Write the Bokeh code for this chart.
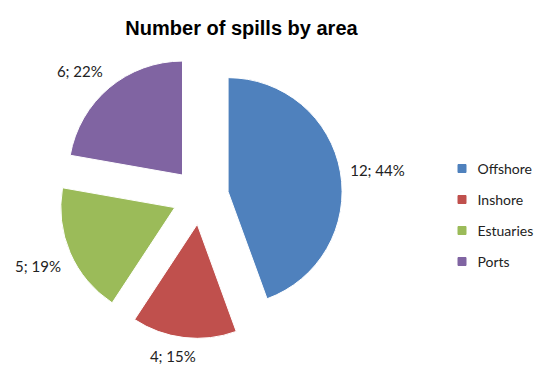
import numpy as np
from bokeh.plotting import figure
from bokeh.models import Range1d, ColumnDataSource, Label
from bokeh.core.properties import value
from bokeh.embed import file_html
from bokeh.resources import INLINE

# ---- data ----
categories = ["Offshore", "Inshore", "Estuaries", "Ports"]
counts = [12, 4, 5, 6]
colors = ["#4F81BD", "#C0504D", "#9BBB59", "#8064A2"]
title_text = "Number of spills by area"

# ---- layout ----
W, H = 535, 365
CX, CY = 200, 169        # pie centre (data units = px, y up)
R = 114                  # radius
EXPLODE = 28             # explosion distance
LABEL_PAD = 10
FONT = "Lato"

vals = np.array(counts, dtype=float)
frac = vals / vals.sum()
cum = np.concatenate([[0.0], np.cumsum(frac)])
theta1 = cum[:-1] * 2 * np.pi       # clockwise from 12 o'clock
theta2 = cum[1:] * 2 * np.pi
mid = (theta1 + theta2) / 2
ux = np.sin(mid)
uy = np.cos(mid)
xs = CX + EXPLODE * ux
ys = CY + EXPLODE * uy

src = ColumnDataSource(dict(
    x=xs, y=ys,
    start=np.pi / 2 - theta1,
    end=np.pi / 2 - theta2,
    color=colors,
    cat=categories,
))

p = figure(width=W, height=H, x_range=Range1d(0, W), y_range=Range1d(0, H),
           min_border=0, toolbar_location=None, output_backend="svg",
           x_axis_location=None, y_axis_location=None)
p.grid.visible = False
p.outline_line_color = None
p.background_fill_color = "white"
p.border_fill_color = "white"

p.wedge(x="x", y="y", radius=R, start_angle="start", end_angle="end",
        direction="clock", fill_color="color", line_color="white",
        line_width=1, source=src)

# data labels
for i in range(len(counts)):
    pct = int(round(frac[i] * 100))
    txt = f"{counts[i]}; {pct}%"
    lx = xs[i] + (R + LABEL_PAD) * ux[i]
    ly = ys[i] + (R + LABEL_PAD) * uy[i]
    if ux[i] > 0.3:
        align = "left"
    elif ux[i] < -0.3:
        align = "right"
    else:
        align = "center"
        lx -= 10
    if uy[i] > 0.3:
        base = "bottom"
    elif uy[i] < -0.3:
        base = "top"
    else:
        base = "middle"
    p.add_layout(Label(x=lx, y=ly, text=txt, text_font=FONT,
                       text_font_size="15px", text_color="#222222",
                       text_align=align, text_baseline=base))

# title
p.add_layout(Label(x=241, y=H - 27, text=title_text,
                   text_font="Liberation Sans", text_font_style="bold",
                   text_font_size="20px", text_color="black",
                   text_align="center", text_baseline="middle"))

# legend (manual)
LEG_X, LEG_Y0, LEG_DY = 461.5, H - 168, 31
leg_y = [LEG_Y0 - i * LEG_DY for i in range(len(categories))]
leg_src = ColumnDataSource(dict(x=[LEG_X] * len(categories), y=leg_y,
                                tx=[LEG_X + 15.5] * len(categories),
                                color=colors, cat=categories))
p.scatter(x="x", y="y", marker="square", size=8, fill_color="color",
          line_color="color", source=leg_src)
p.text(x="tx", y="y", text="cat", text_font=value(FONT), text_font_size="14px",
       text_color="#222222", text_align="left", text_baseline="middle",
       source=leg_src)

open("out.html", "w").write(file_html(p, INLINE))
